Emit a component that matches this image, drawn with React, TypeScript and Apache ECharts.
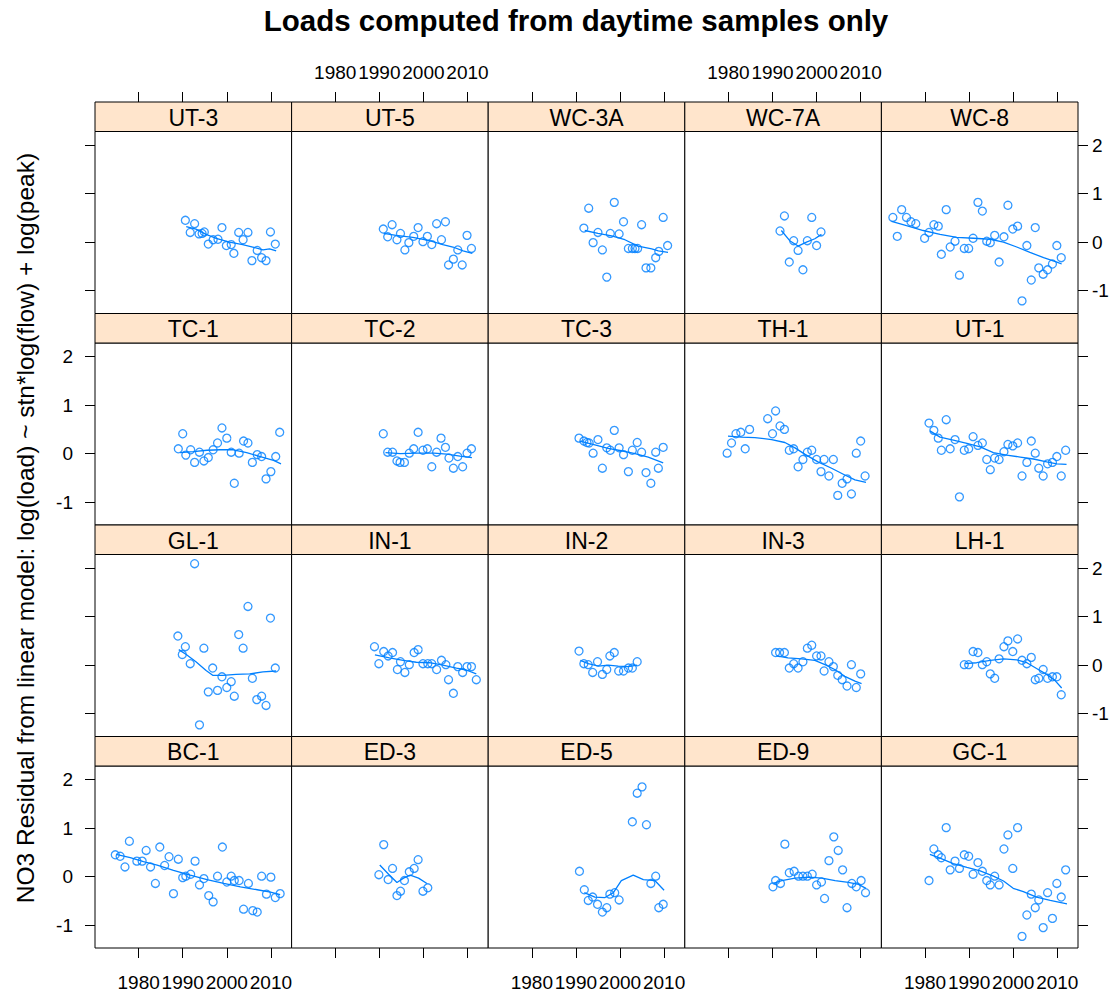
import React, { useEffect, useRef } from "react";
import * as echarts from "echarts";

type Pt = [number, number];

// Panel order: top row first, left to right
const panelNames = [
  "UT-3", "UT-5", "WC-3A", "WC-7A", "WC-8",
  "TC-1", "TC-2", "TC-3", "TH-1", "UT-1",
  "GL-1", "IN-1", "IN-2", "IN-3", "LH-1",
  "BC-1", "ED-3", "ED-5", "ED-9", "GC-1",
];

const yearTicks = [1980, 1990, 2000, 2010];
const residTicks = [-1, 0, 1, 2];

// ---- residuals (year, residual) and smooth fits per station ----
const UT3_pts: Pt[] = [[1990.6,0.45],[1992.7,0.38],[1991.7,0.2],[1993.7,0.17],[1994.9,0.21],[1994.4,0.18],[1998.9,0.3],[1995.8,-0.04],[1996.9,0.05],[1998.0,0.06],[1999.9,-0.07],[2001.0,-0.05],[2001.6,-0.23],[2002.7,0.2],[2004.8,0.2],[2003.7,0.05],[2005.7,-0.38],[2006.9,-0.17],[2007.9,-0.32],[2008.9,-0.38],[2009.9,0.21],[2011.0,-0.04]];
const UT3_fit: Pt[] = [[1990.8,0.32],[1993.0,0.27],[1995.3,0.16],[1997.6,0.08],[2000.6,0],[2003.6,-0.05],[2005.9,-0.1],[2008.2,-0.16],[2009.7,-0.14],[2011.2,-0.18]];

const UT5_pts: Pt[] = [[1990.9,0.27],[1992.9,0.36],[1991.9,0.11],[1994.8,0.18],[1994.0,0.05],[1995.8,-0.16],[1996.7,-0.01],[1997.8,0.12],[1998.8,0.3],[1999.9,0.01],[2000.9,0.12],[2001.9,-0.05],[2003.0,0.38],[2004.1,0.05],[2005.0,0.42],[2007.8,-0.16],[2006.8,-0.35],[2005.7,-0.47],[2008.8,-0.47],[2009.9,0.14],[2010.9,-0.13]];
const UT5_fit: Pt[] = [[1991.0,0.18],[1993.8,0.14],[1997.6,0.1],[2001.4,0.03],[2004.4,-0.05],[2006.7,-0.1],[2009.0,-0.18],[2011.1,-0.23]];

const WC3A_pts: Pt[] = [[1991.8,0.29],[1992.9,0.7],[1998.7,0.82],[1993.9,-0.01],[1996.0,-0.16],[1995.0,0.2],[1997.0,-0.72],[1997.8,0.18],[1999.8,0.17],[2000.8,0.42],[2001.9,-0.13],[2002.8,-0.13],[2003.4,-0.13],[2004.0,-0.13],[2004.9,0.36],[2005.9,-0.53],[2007.0,-0.53],[2008.1,-0.32],[2008.8,-0.19],[2009.8,0.51],[2010.8,-0.07]];
const WC3A_fit: Pt[] = [[1992.0,0.24],[1995.0,0.18],[1998.1,0.13],[2001.1,0.05],[2004.1,-0.08],[2007.2,-0.14],[2008.7,-0.18],[2010.9,-0.21]];

const WC7A_pts: Pt[] = [[1991.7,0.23],[1992.7,0.54],[1994.8,0.03],[1993.8,-0.41],[1995.8,-0.17],[1996.9,-0.57],[1997.9,0.03],[1998.9,0.51],[2000.0,-0.07],[2001.0,0.21]];
const WC7A_fit: Pt[] = [[1992.0,0.24],[1993.9,0.03],[1995.8,-0.08],[1997.7,0.0],[1999.6,0.07],[2001.1,0.16]];

const WC8_pts: Pt[] = [[1972.7,0.51],[1973.7,0.12],[1974.7,0.67],[1975.8,0.51],[1976.8,0.42],[1977.9,0.38],[1979.9,0.08],[1980.9,0.2],[1982.0,0.36],[1983.0,0.33],[1983.7,-0.25],[1984.8,0.67],[1985.7,-0.1],[1986.8,0.02],[1987.8,-0.68],[1988.9,-0.13],[1989.9,-0.13],[1990.9,0.08],[1992.0,0.82],[1993.0,0.64],[1994.0,0.02],[1994.8,-0.01],[1995.8,0.14],[1996.8,-0.41],[1997.9,0.11],[1998.8,0.76],[1999.9,0.27],[2001.0,0.33],[2002.0,-1.21],[2003.1,-0.07],[2004.1,-0.78],[2005.0,0.3],[2005.8,-0.53],[2006.8,-0.66],[2007.8,-0.57],[2008.9,-0.45],[2009.9,-0.07],[2010.9,-0.32]];
const WC8_fit: Pt[] = [[1972.4,0.43],[1975.8,0.34],[1979.6,0.24],[1983.4,0.16],[1987.2,0.1],[1991.0,0.08],[1994.8,0.06],[1997.8,0],[2000.8,-0.1],[2003.8,-0.21],[2006.9,-0.32],[2009.9,-0.41],[2011.0,-0.45]];

const TC1_pts: Pt[] = [[1989.0,0.1],[1990.0,0.41],[1990.7,-0.03],[1991.8,0.08],[1992.7,-0.18],[1993.8,0.03],[1994.8,-0.15],[1995.8,-0.08],[1996.9,0.08],[1997.9,0.22],[1998.9,0.53],[2000.0,0.32],[2001.0,0.03],[2001.7,-0.61],[2002.8,0.01],[2003.8,0.26],[2004.8,0.22],[2005.8,-0.18],[2006.9,-0.02],[2007.9,-0.06],[2008.9,-0.52],[2010.0,-0.37],[2011.1,-0.06],[2012.0,0.44]];
const TC1_fit: Pt[] = [[1989.4,0.02],[1992.4,0.04],[1995.5,0.07],[1998.5,0.08],[2001.5,0.08],[2004.5,0.02],[2007.6,-0.06],[2010.6,-0.14],[2012.3,-0.21]];

const TC2_pts: Pt[] = [[1990.9,0.41],[1991.9,0.03],[1993.0,0.03],[1994.0,-0.15],[1994.7,-0.18],[1995.7,-0.18],[1996.8,0.01],[1997.8,0.1],[1998.8,0.44],[1999.9,0.07],[2000.9,0.1],[2001.9,-0.27],[2003.0,0.03],[2004.0,0.32],[2005.0,0.13],[2005.8,-0.09],[2006.8,-0.3],[2007.8,-0.06],[2008.9,-0.27],[2009.9,0.01],[2010.9,0.1]];
const TC2_fit: Pt[] = [[1991.4,0.02],[1994.8,0.0],[1998.6,0.01],[2002.4,0.01],[2005.3,-0.01],[2008.3,-0.05],[2011.0,-0.08]];

const TC3_pts: Pt[] = [[1990.7,0.32],[1991.8,0.26],[1992.5,0.23],[1993.0,0.22],[1993.9,0.01],[1995.0,0.29],[1996.0,-0.3],[1997.0,0.12],[1997.8,0.07],[1998.7,0.48],[1999.8,0.12],[2000.8,-0.02],[2001.9,-0.37],[2002.8,0.07],[2003.9,0.23],[2004.9,0.03],[2005.9,-0.39],[2007.0,-0.61],[2008.1,0.03],[2008.7,-0.3],[2009.8,0.13]];
const TC3_fit: Pt[] = [[1990.9,0.26],[1994.3,0.18],[1997.3,0.11],[2000.3,0.06],[2003.4,0.0],[2006.4,-0.07],[2009.8,-0.19]];

const TH1_pts: Pt[] = [[1979.7,0.01],[1980.7,0.22],[1981.7,0.41],[1982.8,0.44],[1983.8,0.1],[1984.8,0.5],[1988.9,0.72],[1990.0,0.41],[1990.7,0.88],[1991.7,0.57],[1992.7,0.5],[1993.8,0.07],[1994.8,0.1],[1995.8,-0.27],[1996.9,-0.12],[1997.9,0.03],[1998.9,0.07],[2000.0,-0.12],[2001.0,-0.37],[2001.7,-0.12],[2002.8,-0.46],[2003.8,-0.12],[2004.8,-0.86],[2005.8,-0.61],[2006.9,-0.52],[2007.9,-0.83],[2009.0,0.01],[2010.0,0.26],[2011.0,-0.46]];
const TH1_fit: Pt[] = [[1979.9,0.36],[1982.9,0.34],[1986.0,0.33],[1989.8,0.29],[1992.8,0.23],[1995.1,0.12],[1997.3,-0.01],[2000.3,-0.17],[2003.4,-0.3],[2006.4,-0.44],[2008.7,-0.54],[2011.2,-0.59]];

const UT1_pts: Pt[] = [[1980.9,0.63],[1982.0,0.48],[1983.0,0.32],[1983.7,0.07],[1984.8,0.7],[1985.7,0.1],[1986.8,0.29],[1987.8,-0.89],[1988.9,0.07],[1989.9,0.1],[1990.9,0.35],[1992.0,0.17],[1993.0,0.22],[1994.0,-0.12],[1994.8,-0.33],[1995.8,-0.09],[1996.8,-0.12],[1997.9,0.04],[1998.8,0.19],[1999.9,0.16],[2001.0,0.22],[2002.0,-0.46],[2003.1,-0.18],[2004.1,0.26],[2005.0,0.01],[2005.8,-0.3],[2006.8,-0.46],[2007.8,-0.21],[2008.9,-0.18],[2009.9,-0.06],[2010.9,-0.46],[2011.9,0.07]];
const UT1_fit: Pt[] = [[1981.1,0.47],[1983.4,0.34],[1986.4,0.28],[1989.5,0.21],[1992.5,0.14],[1995.5,0.02],[1998.5,-0.03],[2001.6,-0.07],[2004.6,-0.11],[2007.6,-0.17],[2009.9,-0.21],[2012.1,-0.22]];

const GL1_pts: Pt[] = [[1988.9,0.6],[1990.6,0.38],[1989.9,0.22],[1991.7,0.03],[1992.7,2.09],[1994.8,0.35],[1995.8,-0.55],[1996.8,-0.06],[1997.9,-0.52],[1998.9,-0.24],[2000.0,-0.46],[2001.0,-0.34],[2001.7,-0.64],[2002.7,0.63],[2003.7,0.35],[2004.8,1.21],[2005.8,-0.27],[2006.8,-0.71],[2007.9,-0.64],[2008.9,-0.83],[2009.9,0.97],[2011.0,-0.06],[1993.8,-1.23]];
const GL1_fit: Pt[] = [[1989.1,0.32],[1990.8,0.22],[1993.0,0.07],[1995.3,-0.11],[1996.8,-0.21],[1999.1,-0.21],[2002.1,-0.19],[2005.2,-0.18],[2008.2,-0.14],[2011.2,-0.12]];

const IN1_pts: Pt[] = [[1988.9,0.38],[1989.9,0.03],[1991.0,0.28],[1992.0,0.19],[1993.0,0.26],[1994.8,0.07],[1994.1,-0.09],[1995.8,-0.15],[1996.8,0.01],[1997.9,0.26],[1998.8,0.32],[1999.9,0.03],[2001.0,0.03],[2001.9,0.03],[2003.0,-0.09],[2004.1,0.1],[2005.1,0.01],[2005.7,-0.3],[2006.8,-0.58],[2007.8,-0.03],[2008.9,-0.15],[2009.9,-0.03],[2010.9,-0.03],[2012.0,-0.3]];
const IN1_fit: Pt[] = [[1989.0,0.21],[1992.3,0.15],[1995.4,0.1],[1998.4,0.06],[2001.4,0.05],[2004.4,0],[2007.5,-0.06],[2009.7,-0.1],[2012.0,-0.18]];

const IN2_pts: Pt[] = [[1990.7,0.29],[1991.8,0.03],[1992.8,0.01],[1993.8,-0.15],[1994.9,0.07],[1996.0,-0.19],[1997.0,-0.09],[1997.7,0.19],[1998.7,0.26],[1999.7,-0.12],[2000.8,-0.12],[2001.9,-0.06],[2002.8,-0.06],[2003.9,0.07]];
const IN2_fit: Pt[] = [[1991.0,0.1],[1992.8,0.03],[1995.1,-0.02],[1997.3,0],[1999.6,-0.02],[2001.9,-0.03],[2003.9,0]];

const IN3_pts: Pt[] = [[1990.7,0.26],[1991.6,0.26],[1992.7,0.26],[1993.8,-0.06],[1994.8,0.03],[1995.8,-0.06],[1996.9,0.07],[1997.9,0.35],[1998.9,0.41],[2000.0,0.19],[2001.0,0.19],[2001.7,-0.12],[2002.8,0.07],[2003.8,-0.03],[2004.8,-0.21],[2005.8,-0.3],[2006.9,-0.43],[2007.9,0.01],[2009.0,-0.46],[2010.0,-0.18]];
const IN3_fit: Pt[] = [[1990.9,0.19],[1993.5,0.15],[1996.6,0.13],[1999.6,0.1],[2001.9,0.01],[2004.1,-0.09],[2006.4,-0.23],[2008.7,-0.33],[2010.2,-0.38]];

const LH1_pts: Pt[] = [[1988.9,0.01],[1989.9,0.01],[1990.9,0.28],[1992.0,0.26],[1993.0,0.01],[1994.0,0.07],[1994.8,-0.18],[1995.8,-0.27],[1996.8,0.13],[1997.9,0.38],[1998.8,0.5],[1999.9,0.28],[2001.0,0.54],[2002.0,0.1],[2003.1,0.03],[2004.1,0.16],[2005.0,-0.3],[2005.8,-0.27],[2006.8,-0.09],[2007.8,-0.27],[2008.9,-0.24],[2009.9,-0.24],[2010.9,-0.61]];
const LH1_fit: Pt[] = [[1989.1,0.03],[1991.7,0.05],[1994.8,0.1],[1997.8,0.13],[2000.8,0.11],[2003.1,0.05],[2005.3,-0.07],[2007.6,-0.19],[2009.5,-0.32],[2011.0,-0.47]];

const BC1_pts: Pt[] = [[1974.7,0.45],[1975.8,0.42],[1976.9,0.2],[1977.9,0.73],[1979.6,0.32],[1980.8,0.32],[1981.7,0.54],[1982.7,0.2],[1983.8,-0.14],[1984.8,0.61],[1985.9,0.23],[1986.9,0.41],[1987.9,-0.35],[1989.0,0.36],[1990.0,-0.02],[1990.7,0.01],[1991.8,0.05],[1992.8,0.32],[1993.8,-0.17],[1994.8,-0.04],[1995.9,-0.39],[1996.9,-0.52],[1997.9,0.01],[1999.0,0.61],[2000.0,-0.11],[2001.0,0.01],[2001.7,-0.08],[2002.8,-0.08],[2003.8,-0.67],[2004.9,-0.14],[2005.9,-0.7],[2006.9,-0.73],[2007.9,0.01],[2009.0,-0.36],[2010.0,-0.01],[2011.0,-0.43],[2012.1,-0.35]];
const BC1_fit: Pt[] = [[1974.9,0.46],[1978.1,0.39],[1981.1,0.31],[1984.2,0.24],[1987.9,0.13],[1991.7,0.03],[1995.5,-0.06],[1999.3,-0.14],[2003.1,-0.21],[2006.9,-0.27],[2009.9,-0.32],[2012.1,-0.37]];

const ED3_pts: Pt[] = [[1989.9,0.04],[1991.0,0.66],[1992.0,-0.06],[1993.0,0.17],[1994.0,-0.39],[1994.8,-0.3],[1995.7,-0.08],[1996.8,0.1],[1997.9,0.17],[1998.8,0.35],[1999.9,-0.3],[2001.0,-0.23]];
const ED3_fit: Pt[] = [[1990.1,0.24],[1992.1,0.05],[1994.0,-0.12],[1995.5,-0.03],[1997.0,0.03],[1998.9,-0.03],[2000.8,-0.14]];

const ED5_pts: Pt[] = [[1990.8,0.11],[1991.9,-0.27],[1992.8,-0.49],[1993.8,-0.42],[1994.9,-0.57],[1996.0,-0.73],[1997.0,-0.64],[1997.7,-0.36],[1998.8,-0.33],[1999.8,-0.48],[2002.8,1.13],[2003.9,1.72],[2005.0,1.85],[2006.0,1.07],[2007.0,-0.14],[2008.1,0.01],[2008.8,-0.64],[2009.8,-0.57]];
const ED5_fit: Pt[] = [[1991.9,-0.33],[1994.3,-0.42],[1996.6,-0.43],[1998.5,-0.33],[2000.3,-0.08],[2003.0,0.03],[2005.3,-0.06],[2007.9,-0.08],[2010.0,-0.28]];

const ED9_pts: Pt[] = [[1990.1,-0.21],[1990.7,-0.08],[1991.8,-0.14],[1992.8,0.67],[1993.8,0.08],[1994.9,0.11],[1995.9,0.01],[1996.9,0.01],[1997.9,0.01],[1999.0,0.05],[2000.0,-0.17],[2001.1,-0.11],[2001.8,-0.45],[2002.8,0.33],[2003.9,0.82],[2004.9,0.54],[2005.9,0.14],[2006.9,-0.64],[2008.0,-0.14],[2009.0,-0.21],[2010.1,-0.08],[2011.1,-0.33]];
const ED9_fit: Pt[] = [[1990.2,-0.14],[1992.1,-0.08],[1995.1,-0.03],[1998.2,-0.01],[2001.2,-0.03],[2004.2,-0.08],[2007.2,-0.12],[2009.5,-0.16],[2011.2,-0.24]];

const GC1_pts: Pt[] = [[1980.9,-0.08],[1982.0,0.57],[1983.0,0.45],[1983.7,0.39],[1984.8,1.01],[1985.7,0.14],[1986.8,0.32],[1987.8,0.17],[1988.9,0.45],[1989.9,0.42],[1990.9,0.05],[1992.0,0.29],[1993.0,0.11],[1994.0,-0.08],[1994.8,-0.17],[1995.8,0.01],[1996.8,-0.17],[1997.9,0.57],[1998.8,0.86],[1999.9,0.17],[2001.0,1.01],[2002.0,-1.23],[2003.1,-0.79],[2004.1,-0.36],[2005.0,-0.64],[2005.8,-0.48],[2006.8,-1.05],[2007.8,-0.33],[2008.9,-0.86],[2009.9,-0.14],[2010.9,-0.42],[2011.9,0.14]];
const GC1_fit: Pt[] = [[1981.1,0.46],[1983.4,0.38],[1986.4,0.27],[1989.5,0.19],[1992.5,0.12],[1995.5,0.01],[1997.8,-0.09],[2000.0,-0.24],[2002.3,-0.31],[2005.3,-0.42],[2008.4,-0.49],[2012.2,-0.56]];

const panelPoints: Pt[][] = [
  UT3_pts, UT5_pts, WC3A_pts, WC7A_pts, WC8_pts,
  TC1_pts, TC2_pts, TC3_pts, TH1_pts, UT1_pts,
  GL1_pts, IN1_pts, IN2_pts, IN3_pts, LH1_pts,
  BC1_pts, ED3_pts, ED5_pts, ED9_pts, GC1_pts,
];
const panelFits: Pt[][] = [
  UT3_fit, UT5_fit, WC3A_fit, WC7A_fit, WC8_fit,
  TC1_fit, TC2_fit, TC3_fit, TH1_fit, UT1_fit,
  GL1_fit, IN1_fit, IN2_fit, IN3_fit, LH1_fit,
  BC1_fit, ED3_fit, ED5_fit, ED9_fit, GC1_fit,
];

// ---- layout ----
const X_MIN = 1970.1;
const X_MAX = 2014.7;
const Y_MIN = -1.47;
const Y_MAX = 2.28;
const LEFT = 95;
const COL_W = 196.6;
const TOP = 102;
const STRIP_H = 29.5;
const PANEL_H = 182;
const ROW_STEP = STRIP_H + PANEL_H;
const NCOL = 5;
const NROW = 4;
const BLUE = "#0080ff";
const FONT = "Liberation Sans, Arial, sans-serif";

function buildOption() {
  const grid: any[] = [];
  const xAxis: any[] = [];
  const yAxis: any[] = [];
  const series: any[] = [];
  const graphic: any[] = [];

  const tickStyle = { color: "#000", width: 1 };
  const labelBase = { color: "#000", fontSize: 19, fontFamily: FONT };
  const noLine = { show: false, onZero: false };

  for (let k = 0; k < panelNames.length; k++) {
    const r = Math.floor(k / NCOL);
    const c = k % NCOL;
    const left = LEFT + c * COL_W;
    const stripTop = TOP + r * ROW_STEP;
    const panelTop = stripTop + STRIP_H;

    // panel grid
    grid.push({
      left, top: panelTop, width: COL_W, height: PANEL_H,
      show: true, borderColor: "#000", borderWidth: 1, backgroundColor: "#fff",
    });
    // strip grid
    grid.push({
      left, top: stripTop, width: COL_W, height: STRIP_H,
      show: true, borderColor: "#000", borderWidth: 1, backgroundColor: "#ffe5cc",
    });

    const bottomRow = r === NROW - 1;
    xAxis.push({
      type: "value", gridIndex: 2 * k, min: X_MIN, max: X_MAX, position: "bottom",
      axisLine: noLine, splitLine: { show: false },
      axisTick: { show: bottomRow, customValues: yearTicks, length: 10, lineStyle: tickStyle },
      axisLabel: {
        show: bottomRow && c % 2 === 0, customValues: yearTicks, margin: 25,
        formatter: (v: number) => String(v), ...labelBase,
      },
    });
    xAxis.push({
      type: "value", gridIndex: 2 * k + 1, min: X_MIN, max: X_MAX, position: "top",
      axisLine: noLine, splitLine: { show: false },
      axisTick: { show: r === 0, customValues: yearTicks, length: 10, lineStyle: tickStyle },
      axisLabel: {
        show: r === 0 && c % 2 === 1, customValues: yearTicks, margin: 20,
        formatter: (v: number) => String(v), ...labelBase,
      },
    });

    const leftCol = c === 0;
    const rightCol = c === NCOL - 1;
    yAxis.push({
      type: "value", gridIndex: 2 * k, min: Y_MIN, max: Y_MAX,
      position: rightCol ? "right" : "left",
      axisLine: noLine, splitLine: { show: false },
      axisTick: { show: leftCol || rightCol, customValues: residTicks, length: 10, lineStyle: tickStyle },
      axisLabel: {
        show: (leftCol && r % 2 === 1) || (rightCol && r % 2 === 0),
        customValues: residTicks, margin: rightCol ? 14 : 22,
        align: rightCol ? "left" : "right",
        formatter: (v: number) => String(v), ...labelBase,
      },
    });
    yAxis.push({ type: "value", gridIndex: 2 * k + 1, min: 0, max: 1, show: false });

    series.push({
      type: "scatter", xAxisIndex: 2 * k, yAxisIndex: 2 * k,
      data: panelPoints[k], symbol: "circle", symbolSize: 8, silent: true,
      itemStyle: { color: "rgba(0,0,0,0)", borderColor: BLUE, borderWidth: 1.3 },
    });
    series.push({
      type: "line", xAxisIndex: 2 * k, yAxisIndex: 2 * k,
      data: panelFits[k], showSymbol: false, symbol: "none", silent: true,
      lineStyle: { color: BLUE, width: 1.3 },
    });

    graphic.push({
      type: "text", x: left + COL_W / 2, y: stripTop + STRIP_H / 2 + 1,
      style: {
        text: panelNames[k], fill: "#000", font: `23px ${FONT}`,
        textAlign: "center", textVerticalAlign: "middle", align: "center", verticalAlign: "middle",
      },
    });
  }

  graphic.push({
    type: "text", x: 576, y: 20,
    style: {
      text: "Loads computed from daytime samples only", fill: "#000",
      font: `bold 29.5px ${FONT}`,
      textAlign: "center", textVerticalAlign: "middle", align: "center", verticalAlign: "middle",
    },
  });
  graphic.push({
    type: "text", x: 25, y: 528, rotation: Math.PI / 2,
    style: {
      text: "NO3 Residual from linear model: log(load) ~ stn*log(flow) + log(peak)",
      fill: "#000", font: `24.5px ${FONT}`,
      textAlign: "center", textVerticalAlign: "middle", align: "center", verticalAlign: "middle",
    },
  });

  return {
    animation: false,
    backgroundColor: "#fff",
    textStyle: { fontFamily: FONT },
    grid, xAxis, yAxis, series, graphic,
  };
}

export default function App() {
  const ref = useRef<HTMLDivElement>(null);
  useEffect(() => {
    if (!ref.current) return;
    const chart = echarts.init(ref.current, undefined, { renderer: "svg" });
    chart.setOption(buildOption());
    return () => chart.dispose();
  }, []);
  return (
    <div
      ref={ref}
      style={{ position: "absolute", left: 0, top: 0, width: 1120, height: 995 }}
    />
  );
}
